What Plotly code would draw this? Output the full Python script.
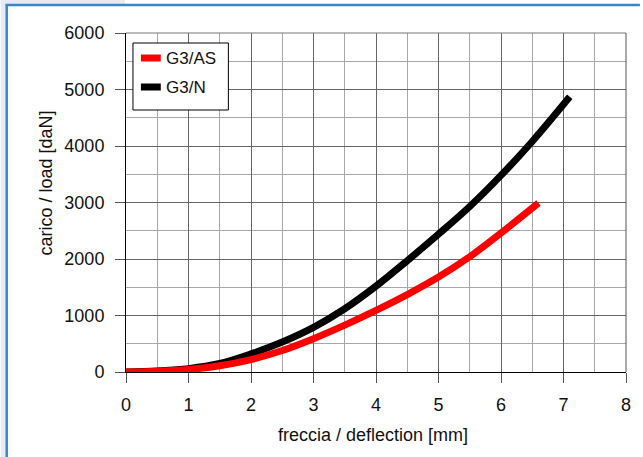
import plotly.graph_objects as go

# ---- data ----
x_as = [0, 0.5, 1, 1.5, 2, 2.5, 3, 3.5, 4, 4.5, 5, 5.5, 6, 6.6]
y_as = [0, 15, 45, 110, 220, 380, 590, 830, 1090, 1370, 1680, 2040, 2460, 2990]

x_n = [0, 0.5, 1, 1.5, 2, 2.5, 3, 3.5, 4, 4.5, 5, 5.5, 6, 6.5, 7.1]
y_n = [0, 20, 60, 150, 320, 530, 790, 1120, 1520, 1970, 2440, 2930, 3480, 4080, 4870]

series_names = ["G3/AS", "G3/N"]
series_colors = ["#ff0000", "#000000"]

x_ticks = [0, 1, 2, 3, 4, 5, 6, 7, 8]
y_ticks = [0, 1000, 2000, 3000, 4000, 5000, 6000]

# ---- layout geometry ----
W, H = 643, 457
L, R, T, B = 126, 14, 33, 85
PW, PH = W - L - R, H - T - B


def xp(px):
    return (px - L) / PW


def yp(py):
    return (H - B - py) / PH


FONT = "Liberation Sans, Arial, Helvetica, sans-serif"

fig = go.Figure()
fig.add_trace(go.Scatter(x=x_n, y=y_n, mode="lines", name=series_names[1],
                         line=dict(color=series_colors[1], width=7, shape="spline", smoothing=1.0)))
fig.add_trace(go.Scatter(x=x_as, y=y_as, mode="lines", name=series_names[0],
                         line=dict(color=series_colors[0], width=7, shape="spline", smoothing=1.0)))

axis_common = dict(
    showline=True, linecolor="#000000", linewidth=1, mirror=False,
    ticks="outside", ticklen=10, tickcolor="#555555", tickwidth=1,
    showgrid=True, gridcolor="#666666", gridwidth=1,
    zeroline=False,
    tickfont=dict(family=FONT, size=18, color="#111111"),
)

fig.update_xaxes(range=[0, 8], tickvals=x_ticks, ticktext=[str(v) for v in x_ticks],
                 minor=dict(dtick=0.5, showgrid=True, gridcolor="#a8a8a8", gridwidth=1, ticks=""),
                 ticklabelstandoff=6, **axis_common)
fig.update_yaxes(range=[0, 6000], tickvals=y_ticks, ticktext=[str(v) for v in y_ticks],
                 minor=dict(dtick=500, showgrid=True, gridcolor="#a8a8a8", gridwidth=1, ticks=""),
                 ticklabelstandoff=7, **axis_common)

shapes = [
    # plot frame top/right
    dict(type="line", xref="paper", yref="paper", x0=0, x1=1, y0=1, y1=1,
         line=dict(color="#777777", width=1)),
    dict(type="line", xref="paper", yref="paper", x0=1, x1=1, y0=0, y1=1,
         line=dict(color="#555555", width=1)),
    # outer decoration: lavender margin and blue frame
    dict(type="rect", xref="paper", yref="paper", x0=xp(0), x1=xp(5), y0=yp(H), y1=yp(0),
         line=dict(width=0), fillcolor="#e6eaf5", layer="below"),
    dict(type="rect", xref="paper", yref="paper", x0=xp(0), x1=xp(125), y0=yp(4), y1=yp(0),
         line=dict(width=0), fillcolor="#e6eaf5", layer="below"),
    dict(type="line", xref="paper", yref="paper", x0=xp(6), x1=xp(6), y0=yp(H), y1=yp(4),
         line=dict(color="#3b86c9", width=2.5)),
    dict(type="line", xref="paper", yref="paper", x0=xp(5), x1=xp(W), y0=yp(5), y1=yp(5),
         line=dict(color="#3b86c9", width=2.5)),
    # legend box
    dict(type="rect", xref="paper", yref="paper", x0=xp(133), x1=xp(229), y0=yp(110), y1=yp(43),
         line=dict(color="#000000", width=1), fillcolor="#ffffff", layer="above"),
]

annotations = [
    dict(text="freccia / deflection [mm]", xref="paper", yref="paper",
         x=xp(374), y=yp(435), xanchor="center", yanchor="middle", showarrow=False,
         font=dict(family=FONT, size=18, color="#111111")),
    dict(text="carico / load [daN]", xref="paper", yref="paper", textangle=-90,
         x=xp(46), y=yp(183), xanchor="center", yanchor="middle", showarrow=False,
         font=dict(family=FONT, size=18, color="#111111")),
]

# legend entries (sample line + label)
legend_rows = [58, 87]
for name, color, row in zip(series_names, series_colors, legend_rows):
    shapes.append(dict(type="line", xref="paper", yref="paper", x0=xp(141), x1=xp(161),
                       y0=yp(row), y1=yp(row), line=dict(color=color, width=7), layer="above"))
    annotations.append(dict(text=name, xref="paper", yref="paper", x=xp(164), y=yp(row),
                            xanchor="left", yanchor="middle", showarrow=False,
                            font=dict(family=FONT, size=17, color="#111111")))

fig.update_layout(
    width=W, height=H,
    margin=dict(l=L, r=R, t=T, b=B, pad=0),
    paper_bgcolor="#ffffff", plot_bgcolor="#ffffff",
    showlegend=False,
    shapes=shapes, annotations=annotations,
    font=dict(family=FONT),
)

fig.write_html("out.html", config={"displayModeBar": False},
               post_script="document.body.style.margin='0px';")
